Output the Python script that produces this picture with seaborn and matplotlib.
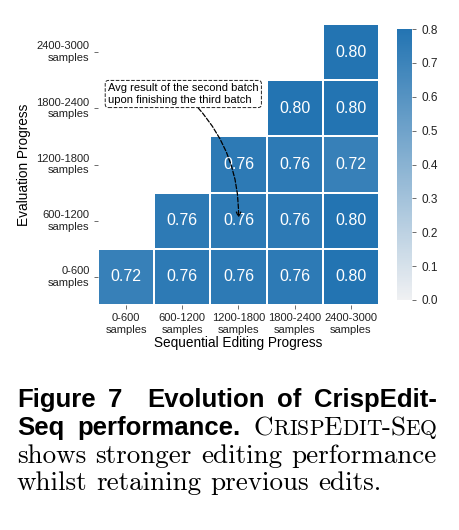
import matplotlib
matplotlib.use("Agg")
import matplotlib.pyplot as plt
import numpy as np
import seaborn as sns

# Chart data
edit_labels = ["0-600\nsamples", "600-1200\nsamples", "1200-1800\nsamples",
               "1800-2400\nsamples", "2400-3000\nsamples"]
eval_labels = ["2400-3000\nsamples", "1800-2400\nsamples", "1200-1800\nsamples",
               "600-1200\nsamples", "0-600\nsamples"]
# rows top -> bottom (eval 2400-3000 ... eval 0-600), NaN = not yet evaluated
row_2400 = [np.nan, np.nan, np.nan, np.nan, 0.80]
row_1800 = [np.nan, np.nan, np.nan, 0.80, 0.80]
row_1200 = [np.nan, np.nan, 0.76, 0.76, 0.72]
row_600 = [np.nan, 0.76, 0.76, 0.76, 0.80]
row_0 = [0.72, 0.76, 0.76, 0.76, 0.80]
cbar_ticks = [0.0, 0.1, 0.2, 0.3, 0.4, 0.5, 0.6, 0.7, 0.8]

values = np.array([row_2400, row_1800, row_1200, row_600, row_0])
mask = np.isnan(values)

plt.rcParams["font.family"] = ["Liberation Sans", "DejaVu Sans"]
plt.rcParams["xtick.color"] = "#555555"
plt.rcParams["ytick.color"] = "#555555"
plt.rcParams["xtick.labelcolor"] = "#222222"
plt.rcParams["ytick.labelcolor"] = "#222222"

W, H = 460, 530
fig = plt.figure(figsize=(4.6, 5.3), dpi=100)
ax = fig.add_axes([98 / W, 1 - 305 / H, 281 / W, 281 / H])
cax = fig.add_axes([397 / W, 1 - 300 / H, 15 / W, 271 / H])

cmap = sns.light_palette("#2374b2", as_cmap=True)
sns.heatmap(values, mask=mask, ax=ax, cbar_ax=cax, cmap=cmap, vmin=0, vmax=0.8,
            annot=True, fmt=".2f", annot_kws={"fontsize": 11.5, "color": "white"},
            linewidths=1.2, linecolor="white", square=False,
            xticklabels=edit_labels, yticklabels=eval_labels,
            cbar_kws={"ticks": cbar_ticks})
for t in ax.texts:
    t.set_color("white")

ax.tick_params(axis="both", length=3, width=0.6, labelsize=8, pad=3)
ax.set_yticklabels(eval_labels, rotation=0, ha="right", multialignment="right")
ax.set_xticklabels(edit_labels, rotation=0, ha="center")
ax.set_xlabel("Sequential Editing Progress", fontsize=9.8, labelpad=1)
ax.set_ylabel("Evaluation Progress", fontsize=9.8, labelpad=4)

cax.tick_params(labelsize=8.5, length=3, width=0.6)
cax.yaxis.set_major_formatter(matplotlib.ticker.FormatStrFormatter("%.1f"))
cax.set_frame_on(False)

# annotation pointing at (eval 600-1200, edit 1200-1800)
ax.annotate("Avg result of the second batch\nupon finishing the third batch",
            xy=(2.5, 3.45), xycoords="data",
            xytext=(108 / W, 1 - 94 / H), textcoords="figure fraction",
            ha="left", va="center", fontsize=8,
            bbox=dict(boxstyle="round,pad=0.25,rounding_size=0.3", fc="white",
                      ec="#222222", ls="--", lw=0.7),
            arrowprops=dict(arrowstyle="->", ls="--", lw=0.9, color="black",
                            connectionstyle="arc3,rad=-0.2",
                            shrinkA=0, shrinkB=0, relpos=(0.58, 0.0)))

# caption below the chart, justified like in the paper
renderer = fig.canvas.get_renderer()
left_px, right_px = 17, 437
bold = dict(family=["Liberation Sans", "DejaVu Sans"], weight="bold", size=18.5)
serif = dict(family=["cmr10", "DejaVu Serif"], size=19.5)
sc_small = dict(family=["cmr10", "DejaVu Serif"], size=15.5)


def seg_width(text, props):
    t = fig.text(0, 0, text, **props)
    w = t.get_window_extent(renderer).width
    t.remove()
    return w


def sc_word(word):
    # fake small caps: capitals at full size, others upper-cased and smaller
    segs = []
    for ch in word:
        if ch.isupper() or not ch.isalpha():
            segs.append((ch, serif))
        else:
            segs.append((ch.upper(), sc_small))
    return segs


lines = [
    ([[("Figure", bold)], [("7", bold)], [("", bold)], [("Evolution", bold)],
      [("of", bold)], [("CrispEdit-", bold)]], True),
    ([[("Seq", bold)], [("performance.", bold)], sc_word("CrispEdit-Seq")], True),
    ([[(w, serif)] for w in "shows stronger editing performance".split()], True),
    ([[(w, serif)] for w in "whilst retaining previous edits.".split()], False),
]
baselines = [407, 435, 463, 490]
space_w = seg_width("a a", serif) - seg_width("aa", serif)

for (words, justify), base in zip(lines, baselines):
    widths = [sum(seg_width(s, p) for s, p in word) for word in words]
    if justify:
        gap = (right_px - left_px - sum(widths)) / (len(words) - 1)
    else:
        gap = space_w
    x = left_px
    for word, w in zip(words, widths):
        xx = x
        for s, p in word:
            fig.text(xx / W, 1 - base / H, s, va="baseline", ha="left", **p)
            xx += seg_width(s, p)
        x += w + gap

fig.savefig("out.png", dpi=100)
